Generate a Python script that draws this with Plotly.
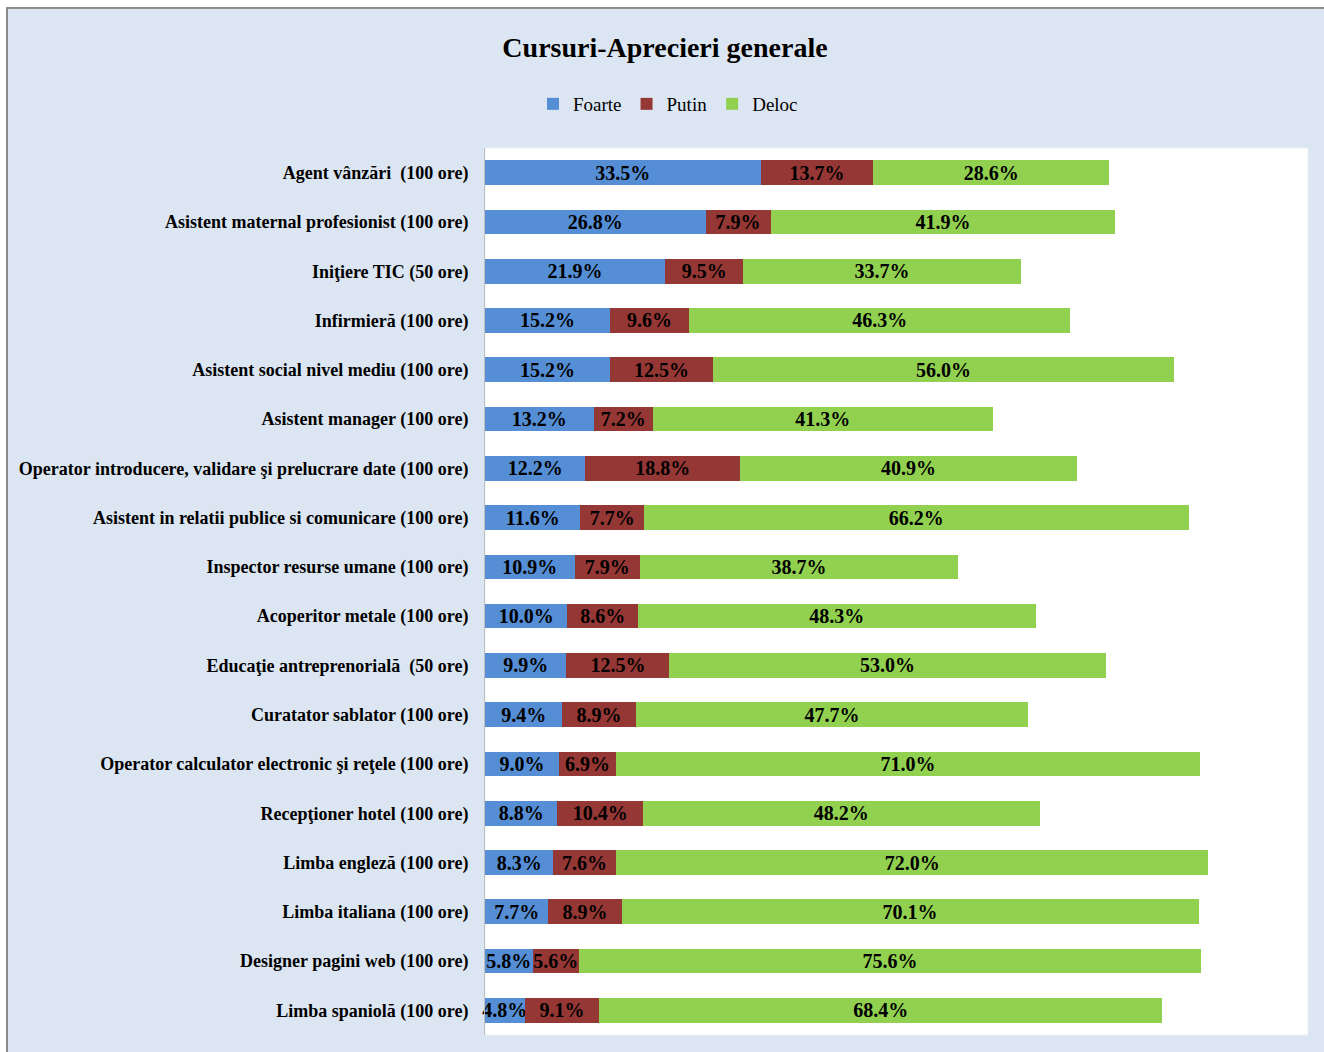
import plotly.graph_objects as go

categories = [
    "Agent vânzări  (100 ore)",
    "Asistent maternal profesionist (100 ore)",
    "Iniţiere TIC (50 ore)",
    "Infirmieră (100 ore)",
    "Asistent social nivel mediu (100 ore)",
    "Asistent manager (100 ore)",
    "Operator introducere, validare şi prelucrare date (100 ore)",
    "Asistent in relatii publice si comunicare (100 ore)",
    "Inspector resurse umane (100 ore)",
    "Acoperitor metale (100 ore)",
    "Educaţie antreprenorială  (50 ore)",
    "Curatator sablator (100 ore)",
    "Operator calculator electronic şi reţele (100 ore)",
    "Recepţioner hotel (100 ore)",
    "Limba engleză (100 ore)",
    "Limba italiana (100 ore)",
    "Designer pagini web (100 ore)",
    "Limba spaniolă (100 ore)",
]
foarte = [33.5, 26.8, 21.9, 15.2, 15.2, 13.2, 12.2, 11.6, 10.9, 10.0, 9.9, 9.4, 9.0, 8.8, 8.3, 7.7, 5.8, 4.8]
putin = [13.7, 7.9, 9.5, 9.6, 12.5, 7.2, 18.8, 7.7, 7.9, 8.6, 12.5, 8.9, 6.9, 10.4, 7.6, 8.9, 5.6, 9.1]
deloc = [28.6, 41.9, 33.7, 46.3, 56.0, 41.3, 40.9, 66.2, 38.7, 48.3, 53.0, 47.7, 71.0, 48.2, 72.0, 70.1, 75.6, 68.4]
series_names = ["Foarte", "Putin", "Deloc"]
series_colors = ["#558ED5", "#953735", "#92D050"]

FONT = "Liberation Serif"

fig = go.Figure()
for name, vals, col in zip(series_names, [foarte, putin, deloc], series_colors):
    fig.add_trace(go.Bar(
        y=categories, x=vals, name=name, orientation="h",
        marker=dict(color=col, line=dict(width=0)),
        text=[f"{v:.1f}%" for v in vals],
        textposition="inside", insidetextanchor="middle",
        textangle=0, constraintext="none", cliponaxis=False,
        textfont=dict(family=FONT, size=20, color="black", weight="bold"),
    ))

W, H = 1324, 1052
PL, PR, PT, PB = 485, 1308, 148, 1035  # plot area in page pixels
L, T = PL, PT
pw, ph = PR - PL, PB - PT
R, B = W - L - pw, H - T - ph

def px(x):
    return (x - PL) / pw

def py(y):
    return (PB - y) / ph

fig.update_layout(
    width=W, height=H,
    barmode="stack", bargap=0.5,
    margin=dict(l=L, r=R, t=T, b=B, autoexpand=False),
    paper_bgcolor="white", plot_bgcolor="rgba(0,0,0,0)",
    font=dict(family=FONT, color="black"),
    title=dict(text="<b>Cursuri-Aprecieri generale</b>", xref="container", x=665 / W,
               xanchor="center", yref="container", y=1 - 47 / H, yanchor="middle",
               font=dict(size=28, family=FONT, color="black")),
    legend=dict(orientation="h", x=px(668), xanchor="center", y=py(104), yanchor="middle",
                font=dict(size=19, family=FONT, color="black"), bgcolor="rgba(0,0,0,0)",
                traceorder="normal", itemwidth=30, tracegroupgap=0),
    xaxis=dict(visible=False, range=[0, 100], fixedrange=True),
    yaxis=dict(autorange="reversed", showgrid=False, showline=True, linecolor="#BFBFBF",
               linewidth=1, ticks="", ticklabelstandoff=12, automargin=False,
               tickfont=dict(size=18, family=FONT, color="black", weight="bold")),
    shapes=[
        dict(type="rect", xref="paper", yref="paper", layer="below",
             x0=px(7), x1=px(1340), y0=py(1070), y1=py(8),
             fillcolor="#DCE6F2", line=dict(color="#8C8C8C", width=2)),
        dict(type="rect", xref="paper", yref="paper", layer="below",
             x0=0, x1=1, y0=0, y1=1,
             fillcolor="white", line=dict(color="#E8EEF6", width=1)),
    ],
    showlegend=True,
)

fig.write_html(
    "out.html",
    config={"displayModeBar": False},
    post_script="document.body.style.margin='0';document.body.style.overflow='hidden';",
)
